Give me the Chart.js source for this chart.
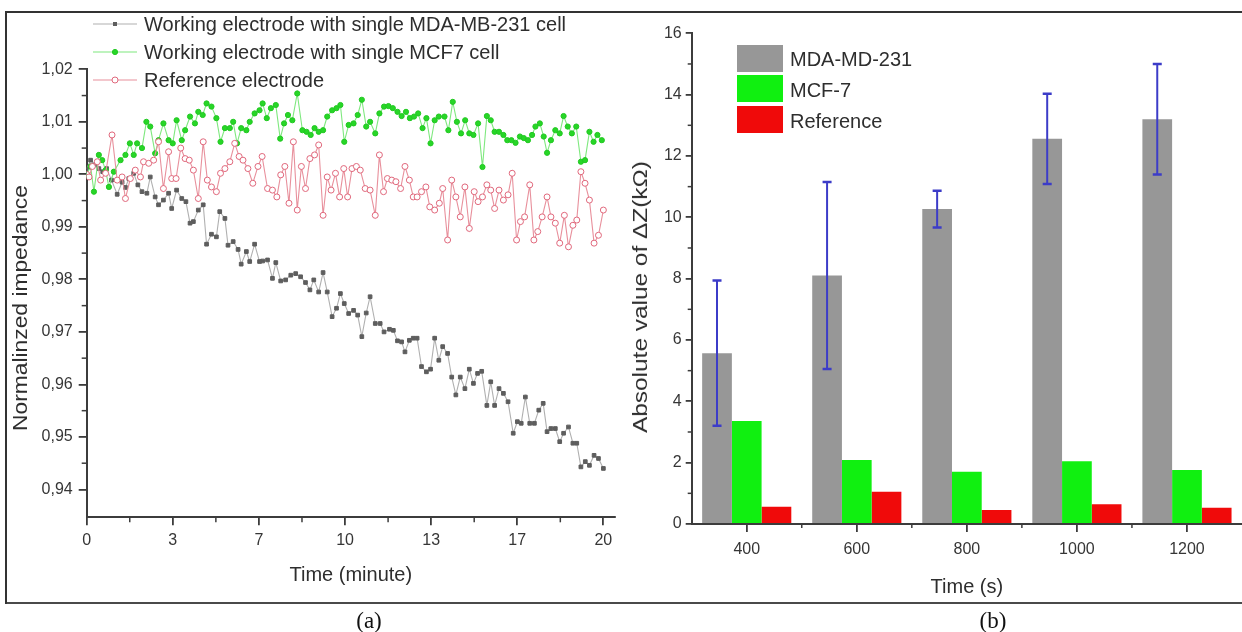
<!DOCTYPE html>
<html><head><meta charset="utf-8">
<script src="https://cdn.jsdelivr.net/npm/chart.js@4.4.1/dist/chart.umd.min.js"></script>
<style>
html,body{margin:0;padding:0;background:#fff;}
#wrap{position:relative;width:1242px;height:632px;overflow:hidden;background:#fff;font-family:"Liberation Sans",Arial,sans-serif;color:#2e2e2e;}
.abs{position:absolute;}
.leg{position:absolute;font-size:20px;line-height:24px;white-space:nowrap;color:#2e2e2e;}
.ytitle{position:absolute;font-size:20px;line-height:24px;white-space:nowrap;transform-origin:0 0;color:#2e2e2e;}
.cap{position:absolute;font-family:"Liberation Serif","Times New Roman",serif;font-size:23px;line-height:26px;color:#111;transform:translate(-50%,-50%);}
.frame{position:absolute;background:#333;}
</style></head>
<body>
<div id="wrap">
  <canvas id="c1" class="abs" width="620" height="632" style="left:0;top:0"></canvas>
  <canvas id="c2" class="abs" width="622" height="632" style="left:620px;top:0"></canvas>

  <div class="frame" style="left:5px;top:11px;width:1237px;height:2px"></div>
  <div class="frame" style="left:5px;top:602px;width:1237px;height:2px;background:#4a4a4a"></div>
  <div class="frame" style="left:5px;top:11px;width:2px;height:593px"></div>

  <div id="legA"></div>
  <div id="legB"></div>

  <div class="ytitle" id="ytA" style="left:20px;top:308px;transform:rotate(-90deg) scaleX(1.14) translate(-50%,-50%)"></div>
  <div class="ytitle" id="ytB" style="left:640px;top:297px;transform:rotate(-90deg) scaleX(1.22) translate(-50%,-50%)"></div>

  <div class="cap" style="left:369px;top:621px">(a)</div>
  <div class="cap" style="left:993px;top:621px">(b)</div>
</div>
<script>
// ---------------- Panel (a) data ----------------
const seriesNames = ['Working electrode with single MDA-MB-231 cell','Working electrode with single MCF7 cell','Reference electrode'];
const yTitleA = 'Normalinzed impedance';
const xTitleA = 'Time (minute)';

const grayTimes = [0.00,0.15,0.30,0.47,0.62,0.77,0.96,1.18,1.37,1.50,1.63,1.82,1.98,2.14,2.33,2.46,2.65,2.78,2.97,3.17,3.29,3.48,3.68,3.84,4.00,4.13,4.32,4.51,4.64,4.83,5.02,5.15,5.35,5.47,5.67,5.86,5.98,6.18,6.31,6.50,6.69,6.81,7.00,7.19,7.32,7.51,7.70,7.90,8.09,8.28,8.47,8.64,8.79,8.98,9.15,9.31,9.50,9.67,9.82,9.97,10.14,10.33,10.49,10.65,10.82,10.97,11.17,11.36,11.51,11.72,11.87,12.03,12.19,12.32,12.49,12.64,12.79,12.96,13.15,13.31,13.47,13.63,13.78,13.97,14.13,14.29,14.46,14.64,14.81,14.97,15.13,15.29,15.49,15.64,15.79,15.96,16.13,16.31,16.51,16.67,16.82,16.98,17.15,17.33,17.50,17.67,17.82,17.97,18.14,18.31,18.46,18.65,18.82,18.97,19.13,19.30,19.46,19.64,19.81,20.00];
const grayValues = [1.0010,1.0027,1.0018,1.0011,1.0005,1.0011,0.9989,0.9962,0.9985,0.9975,0.9992,1.0002,0.9980,0.9967,0.9964,0.9995,0.9957,0.9942,0.9951,0.9964,0.9935,0.9970,0.9954,0.9948,0.9907,0.9910,0.9932,0.9942,0.9867,0.9886,0.9881,0.9929,0.9916,0.9865,0.9872,0.9857,0.9829,0.9853,0.9834,0.9867,0.9834,0.9835,0.9837,0.9802,0.9832,0.9797,0.9799,0.9808,0.9811,0.9805,0.9794,0.9780,0.9799,0.9776,0.9813,0.9776,0.9729,0.9745,0.9773,0.9754,0.9735,0.9741,0.9732,0.9691,0.9736,0.9767,0.9716,0.9716,0.9700,0.9705,0.9703,0.9683,0.9681,0.9662,0.9684,0.9688,0.9688,0.9634,0.9624,0.9629,0.9688,0.9646,0.9672,0.9659,0.9614,0.9580,0.9614,0.9592,0.9629,0.9602,0.9621,0.9625,0.9560,0.9605,0.9560,0.9592,0.9583,0.9567,0.9507,0.9529,0.9526,0.9576,0.9526,0.9526,0.9551,0.9564,0.9510,0.9516,0.9516,0.9491,0.9507,0.9519,0.9488,0.9488,0.9443,0.9453,0.9446,0.9465,0.9459,0.9440];

const greenTimes = [0.00,0.15,0.28,0.47,0.60,0.73,0.86,1.05,1.31,1.50,1.67,1.82,1.95,2.14,2.31,2.46,2.65,2.78,2.97,3.17,3.33,3.48,3.68,3.81,4.00,4.19,4.32,4.49,4.64,4.83,5.02,5.18,5.35,5.54,5.67,5.82,5.98,6.18,6.31,6.50,6.69,6.81,6.97,7.13,7.32,7.49,7.64,7.79,7.96,8.15,8.35,8.51,8.67,8.82,8.98,9.15,9.31,9.50,9.67,9.82,9.97,10.14,10.33,10.49,10.65,10.82,10.97,11.17,11.33,11.51,11.68,11.85,12.03,12.19,12.36,12.51,12.67,12.83,13.00,13.15,13.31,13.47,13.63,13.85,14.00,14.17,14.33,14.49,14.65,14.81,14.97,15.15,15.32,15.49,15.64,15.79,15.96,16.13,16.28,16.44,16.60,16.77,16.92,17.08,17.24,17.37,17.54,17.69,17.82,17.97,18.14,18.31,18.46,18.62,18.78,18.95,19.13,19.29,19.46,19.62,19.77,19.94];
const greenValues = [1.0000,1.0015,0.9967,1.0037,1.0027,1.0008,0.9976,1.0005,1.0027,1.0037,1.0059,1.0037,1.0059,1.0050,1.0100,1.0091,1.0040,1.0065,1.0097,1.0065,1.0059,1.0103,1.0065,1.0084,1.0110,1.0097,1.0119,1.0113,1.0135,1.0129,1.0107,1.0062,1.0088,1.0088,1.0100,1.0059,1.0088,1.0084,1.0100,1.0116,1.0122,1.0135,1.0107,1.0126,1.0132,1.0068,1.0097,1.0113,1.0103,1.0154,1.0084,1.0081,1.0075,1.0088,1.0081,1.0084,1.0110,1.0122,1.0126,1.0132,1.0062,1.0094,1.0097,1.0113,1.0142,1.0091,1.0100,1.0078,1.0116,1.0129,1.0130,1.0126,1.0119,1.0111,1.0119,1.0107,1.0110,1.0116,1.0088,1.0107,1.0059,1.0103,1.0110,1.0110,1.0084,1.0138,1.0100,1.0078,1.0103,1.0078,1.0075,1.0097,1.0014,1.0111,1.0103,1.0081,1.0081,1.0075,1.0065,1.0065,1.0060,1.0072,1.0069,1.0065,1.0075,1.0091,1.0097,1.0072,1.0041,1.0065,1.0084,1.0078,1.0111,1.0091,1.0078,1.0091,1.0024,1.0027,1.0081,1.0062,1.0075,1.0065];

const redTimes = [0.00,0.09,0.22,0.41,0.54,0.73,0.98,1.18,1.37,1.50,1.69,1.88,2.08,2.20,2.40,2.59,2.78,2.97,3.17,3.29,3.46,3.64,3.81,3.97,4.13,4.32,4.51,4.67,4.83,5.02,5.18,5.35,5.54,5.73,5.90,6.05,6.24,6.43,6.63,6.79,7.00,7.19,7.36,7.51,7.67,7.83,8.00,8.15,8.31,8.47,8.64,8.82,8.98,9.15,9.31,9.46,9.63,9.79,9.95,10.10,10.27,10.44,10.59,10.78,10.97,11.17,11.33,11.49,11.64,11.81,11.97,12.15,12.32,12.49,12.64,12.79,12.96,13.13,13.28,13.47,13.65,13.78,13.97,14.13,14.29,14.46,14.64,14.81,15.00,15.15,15.32,15.49,15.64,15.79,15.96,16.13,16.31,16.47,16.64,16.79,16.95,17.15,17.31,17.46,17.63,17.82,17.97,18.14,18.31,18.49,18.65,18.82,18.97,19.13,19.29,19.46,19.64,19.81,20.00];
const redValues = [1.0000,0.9995,1.0015,1.0024,0.9989,1.0002,1.0075,0.9989,0.9995,0.9954,0.9992,1.0008,0.9995,1.0024,1.0021,1.0027,1.0062,0.9973,1.0043,0.9992,0.9992,1.0050,1.0030,1.0027,1.0008,0.9954,1.0062,0.9989,0.9976,0.9967,1.0002,1.0011,1.0024,1.0059,1.0034,1.0027,1.0011,0.9983,1.0015,1.0034,0.9973,0.9970,0.9957,0.9999,1.0015,0.9945,1.0062,0.9932,1.0015,0.9973,1.0030,1.0037,1.0056,0.9922,0.9995,0.9970,1.0002,0.9957,1.0011,0.9957,1.0011,1.0015,1.0008,0.9973,0.9970,0.9922,1.0037,0.9967,0.9992,0.9989,0.9986,0.9973,1.0015,0.9989,0.9957,0.9957,0.9967,0.9976,0.9938,0.9932,0.9945,0.9973,0.9875,0.9989,0.9957,0.9919,0.9976,0.9897,0.9967,0.9948,0.9957,0.9980,0.9970,0.9935,0.9970,0.9951,0.9961,1.0002,0.9875,0.9910,0.9919,0.9980,0.9875,0.9891,0.9919,0.9957,0.9919,0.9907,0.9869,0.9922,0.9862,0.9903,0.9913,1.0005,0.9983,0.9951,0.9869,0.9884,0.9932];

const xTickValuesA = [0, 10/3, 20/3, 10, 40/3, 50/3, 20];
const xTickLabelsA = ['0','3','7','10','13','17','20'];
const yTickValuesA = [0.94,0.95,0.96,0.97,0.98,0.99,1.00,1.01,1.02];
const yTickLabelsA = ['0,94','0,95','0,96','0,97','0,98','0,99','1,00','1,01','1,02'];

// ---------------- Panel (b) data ----------------
const barCategories = ['400','600','800','1000','1200'];
const barNames = ['MDA-MD-231','MCF-7','Reference'];
const mdaValues = [5.57, 8.10, 10.27, 12.56, 13.20];
const mdaErrors = [2.37, 3.05, 0.60, 1.47, 1.80];
const mcfValues = [3.36, 2.09, 1.70, 2.05, 1.76];
const refValues = [0.56, 1.05, 0.46, 0.64, 0.53];
const yTitleB = 'Absolute value of \u0394Z(k\u03A9)';
const xTitleB = 'Time (s)';

// ---------------- styles ----------------
const FONT = '"Liberation Sans", Arial, sans-serif';
Chart.defaults.font.family = FONT;
Chart.defaults.color = '#363636';
const AXIS = '#3c3c3c';
const lineStyles = [
  {line:'#b0b0b0', pt:'#5e5e5e', fill:'#5e5e5e', style:'rect', r:2.6},
  {line:'#7ee87e', pt:'#22c822', fill:'#27d627', style:'circle', r:2.6},
  {line:'#e8909c', pt:'#e0687c', fill:'#ffffff', style:'circle', r:3}
];
const barColors = ['#979797', '#10f010', '#f00a0a'];

const minorTicks = {
  id: 'minorTicks',
  afterDraw(chart, args, o) {
    const ctx = chart.ctx, ca = chart.chartArea;
    ctx.save(); ctx.strokeStyle = AXIS; ctx.lineWidth = 1.5;
    (o.x || []).forEach(v => { const p = chart.scales.x.getPixelForValue(v);
      ctx.beginPath(); ctx.moveTo(p, ca.bottom); ctx.lineTo(p, ca.bottom + o.len); ctx.stroke(); });
    (o.y || []).forEach(v => { const p = chart.scales.y.getPixelForValue(v);
      ctx.beginPath(); ctx.moveTo(ca.left, p); ctx.lineTo(ca.left - o.len, p); ctx.stroke(); });
    ctx.restore();
  }
};

const errorBars = {
  id: 'errorBars',
  afterDatasetsDraw(chart) {
    const meta = chart.getDatasetMeta(0), ys = chart.scales.y, ctx = chart.ctx;
    ctx.save(); ctx.strokeStyle = '#3c3cc8';
    meta.data.forEach((el, i) => {
      const v = mdaValues[i], e = mdaErrors[i];
      const t = ys.getPixelForValue(v + e), b = ys.getPixelForValue(v - e), x = el.x;
      ctx.lineWidth = 2;
      ctx.beginPath(); ctx.moveTo(x, t); ctx.lineTo(x, b); ctx.stroke();
      ctx.lineWidth = 2.5;
      ctx.beginPath(); ctx.moveTo(x - 4.5, t); ctx.lineTo(x + 4.5, t); ctx.moveTo(x - 4.5, b); ctx.lineTo(x + 4.5, b); ctx.stroke();
    });
    ctx.restore();
  }
};

function pts(ts, vs) { return ts.map((t, i) => ({x: t, y: vs[i]})); }
const tickFont = {size: 16};

// ---------------- Chart (a) ----------------
new Chart(document.getElementById('c1'), {
  type: 'line',
  data: { datasets: [
    [grayTimes, grayValues], [greenTimes, greenValues], [redTimes, redValues]
  ].map((s, k) => ({
    label: seriesNames[k], data: pts(s[0], s[1]), order: 2 - k,
    borderColor: lineStyles[k].line, borderWidth: 1.1, tension: 0,
    pointStyle: lineStyles[k].style, pointRadius: lineStyles[k].r,
    pointBackgroundColor: lineStyles[k].fill, pointBorderColor: lineStyles[k].pt, pointBorderWidth: 1
  })) },
  options: {
    responsive: false, animation: false, events: [],
    layout: { padding: { left: 0, right: 1.7, top: 69.3, bottom: 44.7 } },
    plugins: { legend: {display: false}, tooltip: {enabled: false},
      minorTicks: { x: [10/6, 5, 50/6, 70/6, 15, 110/6], y: [0.945,0.955,0.965,0.975,0.985,0.995,1.005,1.015], len: 5 } },
    scales: {
      x: { type: 'linear', min: 0, max: 20.45,
        afterBuildTicks: s => { s.ticks = xTickValuesA.map(v => ({value: v})); },
        afterFit: s => { s.height = 70; },
        ticks: { callback: (v, i) => xTickLabelsA[i], font: tickFont, padding: 6, maxRotation: 0, autoSkip: false },
        grid: { drawOnChartArea: false, drawTicks: true, tickLength: 8, color: AXIS, lineWidth: 1.8 },
        border: { display: true, color: AXIS, width: 2 },
        title: { display: true, text: xTitleA, font: {size: 20}, color: '#2e2e2e', padding: 0 }
      },
      y: { min: 0.9347, max: 1.02,
        afterBuildTicks: s => { s.ticks = yTickValuesA.map(v => ({value: v})); },
        afterFit: s => { s.width = 86.7; },
        ticks: { callback: (v, i) => yTickLabelsA[i], font: tickFont, padding: 6, autoSkip: false },
        grid: { drawOnChartArea: false, drawTicks: true, tickLength: 8, color: AXIS, lineWidth: 1.8 },
        border: { display: true, color: AXIS, width: 2 }
      }
    }
  },
  plugins: [minorTicks]
});

// ---------------- Chart (b) ----------------
new Chart(document.getElementById('c2'), {
  type: 'bar',
  data: { labels: barCategories, datasets: [mdaValues, mcfValues, refValues].map((d, k) => ({
    label: barNames[k], data: d, backgroundColor: barColors[k], borderWidth: 0,
    categoryPercentage: 0.81, barPercentage: 1.0 })) },
  options: {
    responsive: false, animation: false, events: [],
    layout: { padding: { left: 0, right: 0, top: 33.3, bottom: 33 } },
    plugins: { legend: {display: false}, tooltip: {enabled: false},
      minorTicks: { x: [0.5, 1.5, 2.5, 3.5], y: [1,3,5,7,9,11,13,15], len: 4 } },
    scales: {
      x: { offset: true,
        afterFit: s => { s.height = 75; },
        ticks: { font: tickFont, padding: 8, maxRotation: 0, autoSkip: false },
        grid: { offset: false, drawOnChartArea: false, drawTicks: true, tickLength: 8, color: AXIS, lineWidth: 1.8 },
        border: { display: true, color: AXIS, width: 2 },
        title: { display: true, text: xTitleB, font: {size: 20}, color: '#2e2e2e', padding: 0 }
      },
      y: { min: 0, max: 16, ticks: { stepSize: 2, font: tickFont, padding: 4 },
        afterFit: s => { s.width = 71.7; },
        grid: { drawOnChartArea: false, drawTicks: true, tickLength: 6, color: AXIS, lineWidth: 1.8 },
        border: { display: true, color: AXIS, width: 2 }
      }
    }
  },
  plugins: [minorTicks, errorBars]
});

// ---------------- HTML legends & titles ----------------
document.getElementById('ytA').textContent = yTitleA;
document.getElementById('ytB').textContent = yTitleB;

const legA = document.getElementById('legA');
const legARows = [24, 52, 79.5];
seriesNames.forEach((name, k) => {
  const st = lineStyles[k], cy = legARows[k];
  const mk = st.style === 'rect'
    ? `<rect x="20" y="3" width="4" height="4" fill="${st.fill}"/>`
    : `<circle cx="22" cy="5" r="${st.r}" fill="${st.fill}" stroke="${st.pt}" stroke-width="1"/>`;
  legA.insertAdjacentHTML('beforeend',
    `<svg class="abs" style="left:93px;top:${cy - 5}px" width="44" height="10"><line x1="0" y1="5" x2="44" y2="5" stroke="${st.line}" stroke-width="1.2"/>${mk}</svg>` +
    `<div class="leg" style="left:144px;top:${cy - 12}px">${name}</div>`);
});

const legB = document.getElementById('legB');
const legBBoxes = [[44.5, 27], [75, 27], [106, 27]];
barNames.forEach((name, k) => {
  const [top, h] = legBBoxes[k];
  legB.insertAdjacentHTML('beforeend',
    `<div class="abs" style="left:737px;top:${top}px;width:46px;height:${h}px;background:${barColors[k]}"></div>` +
    `<div class="leg" style="left:790px;top:${top + h / 2 - 11}px">${name}</div>`);
});
</script>
</body></html>
